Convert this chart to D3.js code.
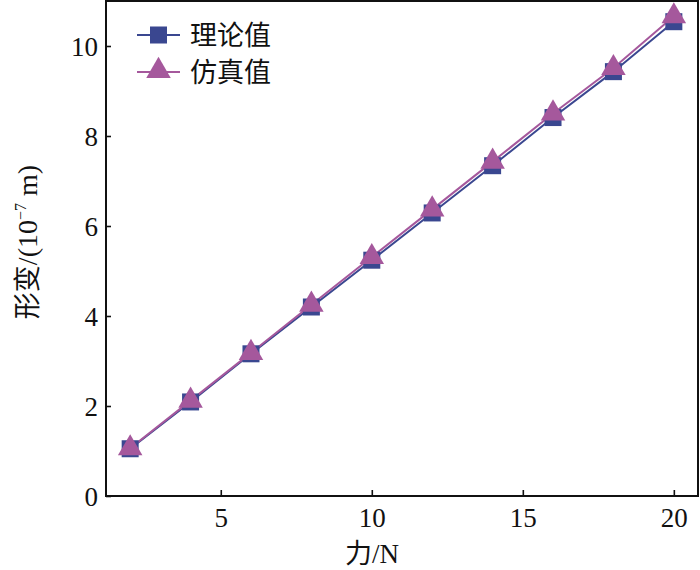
<!DOCTYPE html>
<html><head><meta charset="utf-8">
<script src="https://cdn.jsdelivr.net/npm/d3@7"></script>
<style>body{margin:0;background:#fff}</style>
</head><body>
<script>
const forces = [2, 4, 6, 8, 10, 12, 14, 16, 18, 20];
const theory = [1.05, 2.09, 3.16, 4.20, 5.24, 6.29, 7.34, 8.41, 9.43, 10.54];
const simulation = [1.06, 2.12, 3.18, 4.25, 5.31, 6.37, 7.43, 8.50, 9.51, 10.66];
const xTicks = [5, 10, 15, 20];
const yTicks = [0, 2, 4, 6, 8, 10];
const seriesNames = ["理论值", "仿真值"];

const W = 700, H = 570;
const m = {left: 106, right: 2, top: 1, bottom: 74};
const svg = d3.select("body").append("svg").attr("width", W).attr("height", H);

const x = d3.scaleLinear().domain([1.2, 20.8]).range([m.left, W - m.right]);
const y = d3.scaleLinear().domain([0, 11]).range([H - m.bottom, m.top]);

const numFont = "'Liberation Serif','Times New Roman',serif";
const cjkFont = "'Liberation Serif','Noto Sans CJK SC',serif";

// axes
const gx = svg.append("g").attr("transform", `translate(0,${H - m.bottom})`)
  .call(d3.axisBottom(x).tickValues(xTicks).tickSize(-6).tickPadding(12).tickFormat(d3.format("d")));
const gy = svg.append("g").attr("transform", `translate(${m.left},0)`)
  .call(d3.axisLeft(y).tickValues(yTicks).tickSize(-5).tickPadding(8).tickFormat(d3.format("d")));
[gx, gy].forEach(g => {
  g.select(".domain").remove();
  g.selectAll(".tick line").attr("stroke", "#111").attr("stroke-width", 1.6);
  g.selectAll(".tick text").attr("font-family", numFont).attr("font-size", 27).attr("fill", "#111");
});
gy.selectAll(".tick text").attr("dy", "0.34em");

// frame
svg.append("rect").attr("x", m.left).attr("y", m.top)
  .attr("width", W - m.right - m.left).attr("height", H - m.bottom - m.top)
  .attr("fill", "none").attr("stroke", "#111").attr("stroke-width", 2);

const colTheory = "#3a4790", colSim = "#a5589c";
const line = d3.line().x(d => x(d[0])).y(d => y(d[1]));
const dTheory = forces.map((f, i) => [f, theory[i]]);
const dSim = forces.map((f, i) => [f, simulation[i]]);

svg.append("path").datum(dTheory).attr("d", line).attr("fill", "none")
  .attr("stroke", colTheory).attr("stroke-width", 2);
svg.append("path").datum(dSim).attr("d", line).attr("fill", "none")
  .attr("stroke", colSim).attr("stroke-width", 2);

const sq = 17;
svg.append("g").selectAll("rect").data(dTheory).join("rect")
  .attr("x", d => x(d[0]) - sq / 2).attr("y", d => y(d[1]) - sq / 2)
  .attr("width", sq).attr("height", sq).attr("fill", colTheory);

const tri = d3.symbol().type(d3.symbolTriangle).size(260);
svg.append("g").selectAll("path").data(dSim).join("path")
  .attr("transform", d => `translate(${x(d[0])},${y(d[1])})`)
  .attr("d", tri).attr("fill", colSim);

// legend
const lg = svg.append("g");
const legY = [35, 72];
lg.append("line").attr("x1", 137).attr("x2", 180).attr("y1", legY[0]).attr("y2", legY[0])
  .attr("stroke", colTheory).attr("stroke-width", 2);
lg.append("rect").attr("x", 158.5 - sq / 2).attr("y", legY[0] - sq / 2).attr("width", sq).attr("height", sq).attr("fill", colTheory);
lg.append("line").attr("x1", 137).attr("x2", 180).attr("y1", legY[1]).attr("y2", legY[1])
  .attr("stroke", colSim).attr("stroke-width", 2);
lg.append("path").attr("transform", `translate(158.5,${legY[1] - 1})`).attr("d", tri).attr("fill", colSim);
seriesNames.forEach((n, i) => {
  lg.append("text").attr("x", 190).attr("y", legY[i]).attr("dy", "0.36em")
    .attr("font-family", "'Noto Sans CJK SC'").attr("font-size", 27).attr("fill", "#111").text(n);
});

// axis titles
const xt = svg.append("text").attr("x", 372).attr("y", 563).attr("text-anchor", "middle")
  .attr("font-family", cjkFont).attr("font-size", 27).attr("fill", "#111");
xt.append("tspan").attr("font-family", "'Noto Sans CJK SC'").text("力");
xt.append("tspan").text("/N");

const yt = svg.append("text").attr("transform", `translate(37,242) rotate(-90)`).attr("text-anchor", "middle")
  .attr("font-family", numFont).attr("font-size", 28).attr("fill", "#111");
yt.append("tspan").attr("font-family", "'Noto Sans CJK SC'").attr("font-size", 27).text("形变");
yt.append("tspan").text("/(10");
yt.append("tspan").attr("font-size", 16).attr("dy", -11).text("−7");
yt.append("tspan").attr("dy", 11).text(" m)");
</script>
</body></html>
